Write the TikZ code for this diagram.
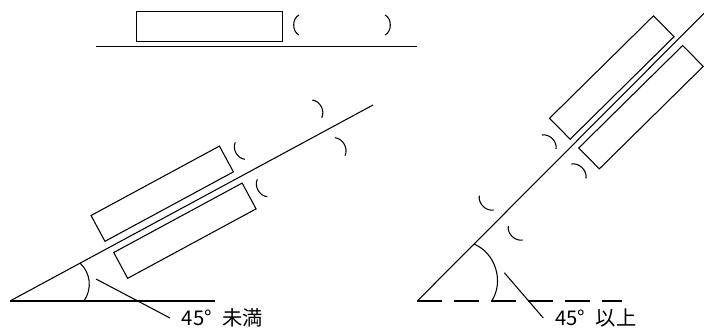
\documentclass[tikz,border=0pt]{standalone}
\usepackage{fontspec}
\setmainfont{Noto Sans CJK JP}
\tikzset{
  plate/.style={draw,rectangle,minimum width=109.5pt,minimum height=22pt,inner sep=0pt},
  gap/.style={line width=0.8pt},
  caption/.style={anchor=west,inner sep=0pt,inner xsep=8.5pt,font=\fontsize{15.2pt}{15.2pt}\selectfont}
}

\begin{document}
\begin{tikzpicture}[x=0.75pt,y=-0.75pt,line width=0.8pt]
  \useasboundingbox (0,0) rectangle (704,333);
  % flat
  \node[plate] (flat) at (209.7,26.4) {};
  \coordinate (flat_l) at (96,46.7);
  \coordinate (flat_r) at (417,46.7);
  \draw (flat_l) -- (flat_r);
  \draw[gap] (299,15) to [bend right=65] (299,35);
  \draw[gap] (385,15) to [bend left=65] (385,35);
  % slope under 45
  \coordinate (low_0) at (10,301);
  \coordinate (low_b) at (215,301);
  \coordinate (low_t) at (373,105);
  \draw (low_0) -- (low_b);
  \draw (low_0) -- (low_t);
  \node[plate,rotate=28.4] (low_1) at (162.2,193.7) {};
  \node[plate,rotate=28.4] (low_2) at (184.9,230.7) {};
  \draw[gap] (235.3,142.3) to [bend right=55] (245,159.3);
  \draw[gap] (257.3,179.3) to [bend right=55] (267.3,196.7);
  \draw[gap] (312.3,100) to [bend left=55] (321.7,117.7);
  \draw[gap] (335,137.7) to [bend left=55] (345,155.7);
  \draw (80,263) to [bend left=40] (84,301);
  \coordinate (low_a) at (96,279);
  \node[caption] (low_c) at (170,318) {45°\hspace{8pt}未満};
  \draw (low_a) -- (low_c.west);
  % slope over 45
  \coordinate (high_0) at (417.3,301);
  \coordinate (high_b) at (622.3,301);
  \coordinate (high_t) at (704,13.3);
  \draw[dash pattern=on 18.5pt off 9.2pt] (high_0) -- (high_b);
  \draw (high_0) -- (high_t);
  \node[plate,rotate=44.6] (high_1) at (611.8,77.5) {};
  \node[plate,rotate=44.6] (high_2) at (641,107.2) {};
  \draw[gap] (542,135) to [bend left=55] (556,149);
  \draw[gap] (571.3,164) to [bend left=55] (586,178.3);
  \draw[gap] (479.3,195.7) to [bend right=55] (493.7,210);
  \draw[gap] (508.3,226) to [bend right=55] (522.7,240);
  \draw (474,244) to [bend left=50] (491.7,301);
  \coordinate (high_a) at (504.3,272.7);
  \node[caption] (high_c) at (543.3,318) {45°\hspace{8pt}以上};
  \draw (high_a) -- (high_c.west);
\end{tikzpicture}
\end{document}
